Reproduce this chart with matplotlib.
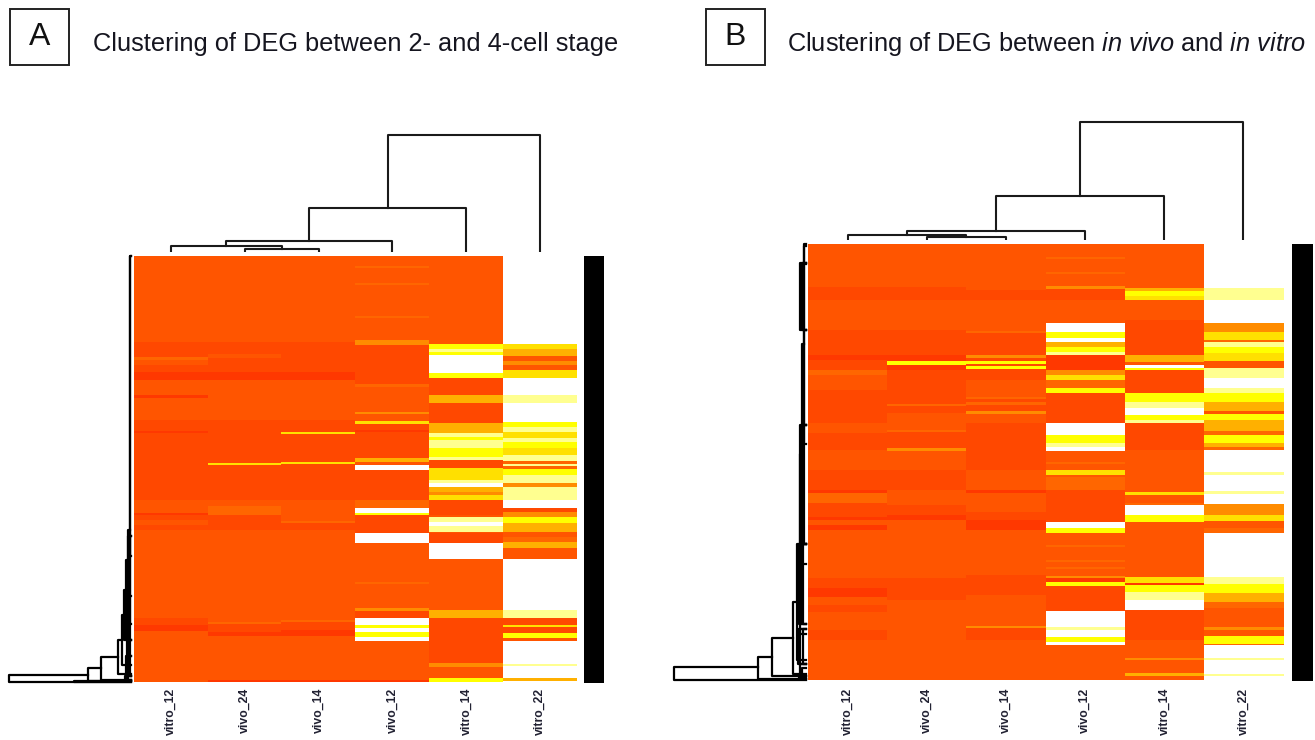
import numpy as np
import matplotlib
matplotlib.use('Agg')
import matplotlib.pyplot as plt
from matplotlib.colors import ListedColormap

plt.rcParams['font.family'] = 'Liberation Sans'
plt.rcParams['mathtext.fontset'] = 'custom'
plt.rcParams['mathtext.rm'] = 'Liberation Sans'
plt.rcParams['mathtext.it'] = 'Liberation Sans:italic'

W, H = 1315, 740

# heat levels, 0 = low (deep red-orange) ... 9 = high (white)
level_colors = ['#ff3800', '#ff4800', '#ff5500', '#ff6600', '#ff8c00',
                '#ffb000', '#ffe000', '#ffff00', '#ffff90', '#ffffff']

col_labels = ['vitro_12', 'vivo_24', 'vivo_14', 'vivo_12', 'vitro_14', 'vitro_22']

title_a = 'Clustering of DEG between 2- and 4-cell stage'
title_b = r'Clustering of DEG between $\mathit{in\ vivo}$ and $\mathit{in\ vitro}$'

# each column is a list of (last row of the band, level)
n_rows_a = 426
a_col1 = [(86,2),(101,1),(104,3),(109,2),(116,1),(124,0),(139,2),(142,0),(164,2),(175,1),(177,0),(224,1),
          (244,1),(257,2),(259,0),(264,1),(269,2),(274,1),(362,2),(369,1),(375,0),(426,2)]
a_col2 = [(86,2),(98,1),(102,2),(116,1),(124,0),(164,2),(207,1),(209,6),(244,1),(250,2),(259,3),(274,1),
          (366,2),(368,3),(376,1),(380,0),(424,2),(426,0)]
a_col3 = [(86,2),(116,1),(124,0),(164,2),(176,1),(178,6),(206,1),(208,6),(244,1),(265,2),(267,3),(274,1),
          (364,2),(366,3),(374,1),(380,0),(424,2),(426,0)]
a_col4 = [(10,2),(12,3),(27,2),(29,3),(60,2),(62,3),(84,2),(89,4),(128,1),(131,3),(156,2),(158,4),(165,2),
          (168,6),(174,1),(176,0),(202,1),(206,5),(209,2),(214,9),(244,1),(252,3),(257,9),(259,7),(277,1),
          (287,9),(326,2),(328,3),(352,2),(355,4),(362,1),(369,9),(372,7),(376,9),(381,7),(385,9),(424,2),(426,0)]
a_col5 = [(88,2),(93,7),(96,8),(99,7),(117,9),(122,7),(139,1),(147,5),(167,1),(177,5),(181,8),(184,7),(192,8),
          (201,7),(204,8),(212,1),(224,6),(227,8),(231,9),(236,5),(239,4),(244,6),(259,1),(261,2),(266,8),
          (270,9),(276,8),(277,2),(287,1),(303,9),(354,2),(362,5),(407,1),(411,4),(422,2),(425,7),(426,7)]
a_col6 = [(88,9),(93,6),(100,5),(105,2),(109,4),(114,2),(122,6),(139,9),(147,8),(166,9),(171,7),(176,8),(182,6),
          (186,8),(192,7),(199,6),(205,8),(208,3),(210,8),(213,3),(219,7),(227,8),(231,4),(244,8),(252,9),
          (256,1),(261,4),(267,7),(276,5),(281,2),(286,3),(292,5),(303,2),(354,9),(362,8),(369,1),(371,6),
          (377,1),(382,7),(385,2),(408,9),(410,8),(422,9),(425,5),(426,9)]

n_rows_b = 436
b_col1 = [(43,2),(56,1),(86,2),(111,1),(116,0),(126,1),(131,3),(146,2),(179,1),(189,2),(206,1),(226,2),(246,1),
          (249,0),(259,3),(273,1),(276,0),(281,2),(286,0),(334,2),(344,1),(353,0),(361,2),(368,1),(386,2),
          (396,1),(436,2)]
b_col2 = [(43,2),(56,1),(86,2),(111,1),(117,0),(121,7),(126,0),(160,1),(162,3),(169,1),(186,2),(188,3),(204,1),
          (207,4),(226,2),(246,1),(261,2),(271,1),(276,0),(334,2),(356,1),(436,2)]
b_col3 = [(46,2),(56,1),(87,2),(89,3),(111,1),(114,4),(117,1),(120,7),(122,1),(125,7),(136,1),(153,2),(155,3),
          (158,1),(161,3),(167,1),(170,4),(179,2),(226,1),(246,2),(249,0),(268,2),(276,1),(286,0),(331,2),
          (351,1),(382,2),(384,4),(396,1),(436,2)]
b_col4 = [(13,2),(15,3),(28,2),(30,3),(42,2),(45,4),(56,1),(79,2),(88,9),(94,7),(98,9),(103,5),(108,7),(111,8),
          (126,0),(131,4),(136,6),(144,3),(149,7),(179,1),(191,9),(199,7),(203,8),(207,9),(218,2),(220,3),
          (226,2),(231,6),(233,2),(246,3),(278,1),(284,9),(289,7),(301,2),(303,3),(316,2),(318,3),(323,2),
          (325,3),(332,2),(334,4),(338,0),(342,7),(367,1),(383,9),(386,8),(393,9),(398,7),(401,9),(436,2)]
b_col5 = [(44,2),(47,5),(52,7),(56,6),(76,2),(111,1),(118,5),(121,2),(124,9),(126,7),(149,1),(158,7),(164,8),
          (171,9),(176,7),(179,8),(206,1),(248,2),(251,6),(259,2),(261,3),(271,9),(278,7),(333,2),(339,6),
          (341,0),(348,7),(356,8),(366,9),(396,1),(414,2),(416,4),(429,2),(432,5),(436,2)]
b_col6 = [(44,9),(56,8),(79,9),(88,4),(96,6),(98,3),(103,8),(109,7),(117,6),(124,2),(134,8),(144,9),(149,8),
          (158,7),(167,5),(170,2),(176,7),(187,5),(191,3),(199,7),(203,5),(206,3),(228,9),(231,8),(247,9),
          (250,8),(260,9),(271,4),(277,6),(284,2),(289,3),(333,9),(340,8),(349,7),(358,5),(364,3),(383,2),
          (386,4),(392,2),(400,7),(401,3),(414,9),(416,8),(430,9),(432,8),(436,9)]

# column dendrograms: (left child, right child, height), leaves are 0-5, new nodes 6, 7, ...
a_merges = [(1,2,3.5),(0,6,6),(7,3,11),(8,4,44),(9,5,117)]
b_merges = [(1,2,3),(0,6,5),(7,3,9),(8,4,44),(9,5,118)]

# row dendrograms: chain of (depth, upper row, lower row), upper arm goes on to the next node
a_chain = [(122,419,426),(43,412,425),(30,401,424),(13,384,418),(9,359,409),(7,334,384),(5,304,384),(3.5,274,384),(1.2,0,368)]
b_chain = [(132,423,436),(48,413,435),(34,394,432),(13,358,430),(9,300,416),(6,210,390),(4,100,320),(2,0,200)]
# small clusters next to the heatmap, both arms end at the leaves
a_tips = [(1.2,0,300),(3,280,420),(1.5,280,420),(4.5,340,420),(57,425,426),(6,420,425),(5.5,400,424),(3,400,424)]
b_tips = [(2,2,20),(6,19,86),(4,19,86),(2,19,86),(2,86,181),(6,181,300),(4,181,300),(2,181,300),
          (7,300,380),(5,300,380),(3,300,380),(8,385,420),(6,385,420),(3,385,420),(6,420,434),(4,424,432),(7,432,435)]


def box(x0, y0, x1, y1):
    # pixel box, y from the top of the picture
    return [x0 / W, 1 - y1 / H, (x1 - x0) / W, (y1 - y0) / H]


def decode(bands, n_rows):
    col = np.zeros(n_rows)
    start = 0
    for end, level in bands:
        col[start:end] = level
        start = end
    return col


def draw_heat(fig, rect, cols, n_rows):
    ax = fig.add_axes(rect)
    mat = np.column_stack([decode(c, n_rows) for c in cols])
    ax.imshow(mat, aspect='auto', cmap=ListedColormap(level_colors), vmin=-0.5, vmax=9.5,
              interpolation='antialiased', extent=(-0.5, len(cols) - 0.5, n_rows, 0))
    ax.axis('off')


def draw_col_tree(fig, rect, merges, max_h):
    ax = fig.add_axes(rect)
    pos = {i: (i, 0) for i in range(6)}
    for i, (l, r, h) in enumerate(merges):
        xl, hl = pos[l]
        xr, hr = pos[r]
        ax.plot([xl, xl, xr, xr], [hl, h, h, hr], color='#1a1a1a', lw=1.5, solid_joinstyle='round')
        pos[6 + i] = ((xl + xr) / 2, h)
    ax.set_xlim(-0.5, 5.5)
    ax.set_ylim(0, max_h)
    ax.axis('off')


def draw_row_tree(fig, rect, chain, tips, n_rows, max_d):
    ax = fig.add_axes(rect)
    for i, (d, up, low) in enumerate(chain):
        next_d = chain[i + 1][0] if i + 1 < len(chain) else 0
        ax.plot([next_d, d, d, 0], [up, up, low, low], color='black', lw=1.6, clip_on=False)
    for d, up, low in tips:
        ax.plot([0, d, d, 0], [up, up, low, low], color='black', lw=1.6, clip_on=False)
    ax.set_xlim(max_d, 0)
    ax.set_ylim(n_rows, 0)
    ax.axis('off')


def draw_panel(fig, letter, letter_box, title, title_x, heat_rect, cols, n_rows, tree_rect, merges, max_h,
               row_rect, chain, tips, max_d, bar_rect, label_y):
    x0, y0, x1, y1 = letter_box
    fig.patches.append(plt.Rectangle((x0 / W, 1 - y1 / H), (x1 - x0) / W, (y1 - y0) / H, transform=fig.transFigure,
                                     fc='white', ec='#222222', lw=1.4))
    fig.text((x0 + x1) / 2 / W, 1 - (y0 + y1) / 2 / H, letter, fontsize=23, ha='center', va='center', color='#111111')
    fig.text(title_x / W, 1 - 51 / H, title, fontsize=18.3, ha='left', va='baseline', color='#15151f')

    draw_heat(fig, box(*heat_rect), cols, n_rows)
    draw_col_tree(fig, box(*tree_rect), merges, max_h)
    draw_row_tree(fig, box(*row_rect), chain, tips, n_rows, max_d)

    bar = fig.add_axes(box(*bar_rect))
    bar.set_facecolor('black')
    bar.set_xticks([])
    bar.set_yticks([])
    for s in bar.spines.values():
        s.set_visible(False)

    hx0, hx1 = heat_rect[0], heat_rect[2]
    for i, lab in enumerate(col_labels):
        x = hx0 + (i + 0.5) * (hx1 - hx0) / 6
        fig.text(x / W, 1 - label_y / H, lab, rotation=90, fontsize=8.8, fontweight='bold', ha='center', va='top',
                 color='#222233')


fig = plt.figure(figsize=(W / 100, H / 100), dpi=100)

draw_panel(fig, 'A', (10, 9, 69, 65), title_a, 93,
           (134, 256, 577, 682), [a_col1, a_col2, a_col3, a_col4, a_col5, a_col6], n_rows_a,
           (134, 100, 577, 252), a_merges, 152,
           (9, 256, 131, 682), a_chain, a_tips, 122,
           (584, 256, 604, 683), 688)

draw_panel(fig, 'B', (706, 9, 765, 65), title_b, 787,
           (808, 244, 1283, 680), [b_col1, b_col2, b_col3, b_col4, b_col5, b_col6], n_rows_b,
           (808, 100, 1283, 240), b_merges, 140,
           (674, 244, 806, 680), b_chain, b_tips, 132,
           (1292, 244, 1313, 681), 688)

fig.savefig('out.png', dpi=100)
